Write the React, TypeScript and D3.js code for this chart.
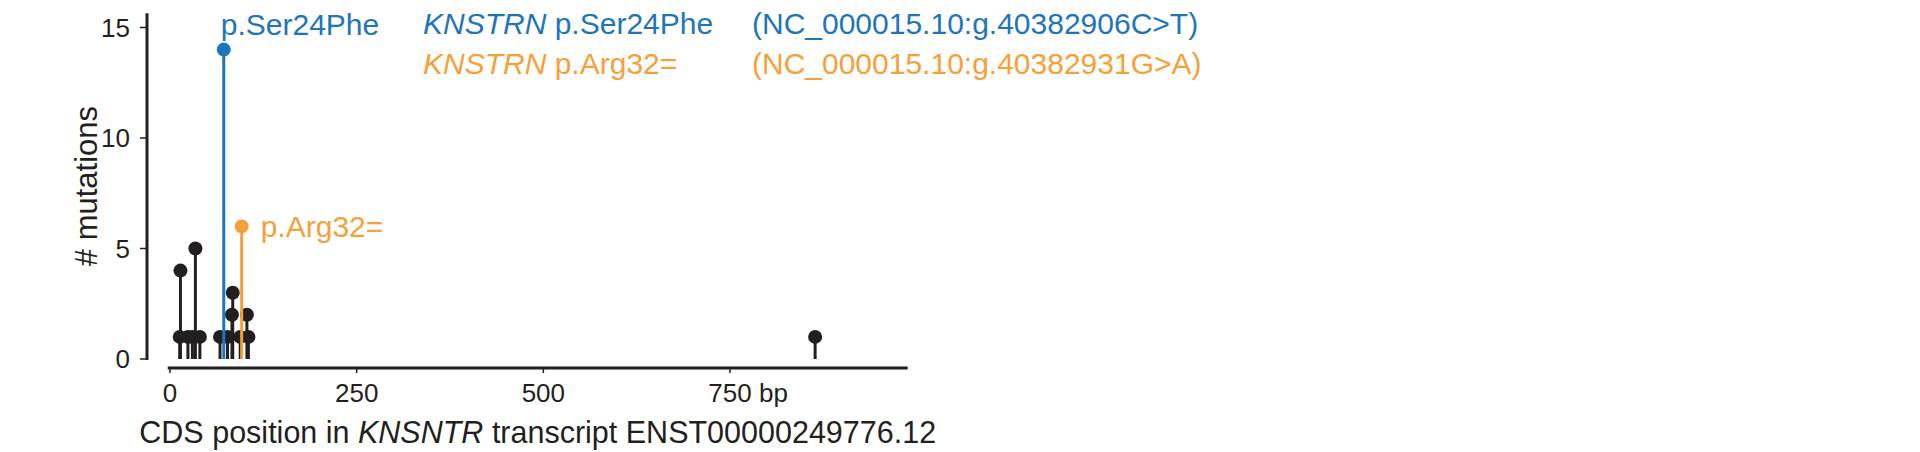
import * as d3 from "d3";

// CDS positions (bp) and mutation counts for the plain (black) lollipops
const otherPositions = [13, 14, 24, 30, 34, 40, 67, 77, 83, 84, 94, 103, 105, 864];
const otherCounts = [1, 4, 1, 1, 5, 1, 1, 1, 2, 3, 1, 2, 1, 1];

// highlighted hotspots
const hotNames = ["p.Ser24Phe", "p.Arg32="];
const hotPositions = [72, 96];
const hotCounts = [14, 6];
const hotColors = ["#1f75bb", "#f6a03a"];
const hotGenomic = ["(NC_000015.10:g.40382906C>T)", "(NC_000015.10:g.40382931G>A)"];

const xTicks = [0, 250, 500, 750];
const yTicks = [0, 5, 10, 15];

const INK = "#231f20";
const FONT = "'Liberation Sans', Arial, Helvetica, sans-serif";
const HEAD_R = 7;

export default function App() {
  const x = d3.scaleLinear().domain([0, 750]).range([170, 730]);
  const y = d3.scaleLinear().domain([0, 15]).range([359, 27.5]);

  const xAxisY = 368;
  const yAxisX = 147;

  const stems = otherPositions.map((p, i) => (
    <g key={i}>
      <line x1={x(p)} x2={x(p)} y1={y(0)} y2={y(otherCounts[i])} stroke={INK} strokeWidth={3} />
      <circle cx={x(p)} cy={y(otherCounts[i])} r={HEAD_R} fill={INK} />
    </g>
  ));

  const hot = hotPositions.map((p, i) => (
    <g key={i}>
      <line x1={x(p)} x2={x(p)} y1={y(0)} y2={y(hotCounts[i])} stroke={hotColors[i]} strokeWidth={3} />
      <circle cx={x(p)} cy={y(hotCounts[i])} r={HEAD_R} fill={hotColors[i]} />
    </g>
  ));

  return (
    <svg
      width={1920}
      height={452}
      style={{ position: "absolute", left: 0, top: 0, background: "#fff" }}
      fontFamily={FONT}
    >
      {/* y axis */}
      <line x1={yAxisX} x2={yAxisX} y1={y(0) + 1} y2={y(15.65)} stroke={INK} strokeWidth={3} />
      {yTicks.map((t) => (
        <g key={t}>
          <line x1={yAxisX - 7} x2={yAxisX} y1={y(t)} y2={y(t)} stroke={INK} strokeWidth={1.5} />
          <text x={130} y={y(t)} dy="0.36em" textAnchor="end" fontSize={26} fill={INK}>
            {t}
          </text>
        </g>
      ))}
      <text
        transform={`translate(86,${(y(0) + y(15.65)) / 2}) rotate(-90)`}
        textAnchor="middle"
        dy="0.35em"
        fontSize={31}
        fill={INK}
      >
        # mutations
      </text>

      {/* x axis */}
      <line x1={x(-3)} x2={x(988)} y1={xAxisY} y2={xAxisY} stroke={INK} strokeWidth={3} />
      {xTicks.map((t) => (
        <g key={t}>
          <line x1={x(t)} x2={x(t)} y1={xAxisY} y2={xAxisY + 5} stroke={INK} strokeWidth={1.5} />
          <text x={x(t)} y={402} textAnchor="middle" fontSize={26} fill={INK}>
            {t}
          </text>
          {t === 750 && (
            <text x={x(t) + 29} y={402} fontSize={26} fill={INK}>
              bp
            </text>
          )}
        </g>
      ))}
      <text x={(x(-3) + x(988)) / 2} y={443} textAnchor="middle" fontSize={30.5} fill={INK}>
        CDS position in <tspan fontStyle="italic">KNSNTR</tspan> transcript ENST00000249776.12
      </text>

      {stems}
      {hot}

      {/* hotspot labels */}
      <text x={x(hotPositions[0]) - 3} y={35} fontSize={30} fill={hotColors[0]}>
        {hotNames[0]}
      </text>
      <text x={x(hotPositions[1]) + 19} y={y(hotCounts[1])} dy="0.36em" fontSize={30} fill={hotColors[1]}>
        {hotNames[1]}
      </text>

      {/* legend */}
      {hotNames.map((n, i) => (
        <g key={n} fill={hotColors[i]} fontSize={30}>
          <text x={423} y={34 + i * 40}>
            <tspan fontStyle="italic">KNSTRN</tspan> {n}
          </text>
          <text x={752} y={34 + i * 40}>
            {hotGenomic[i]}
          </text>
        </g>
      ))}
    </svg>
  );
}
